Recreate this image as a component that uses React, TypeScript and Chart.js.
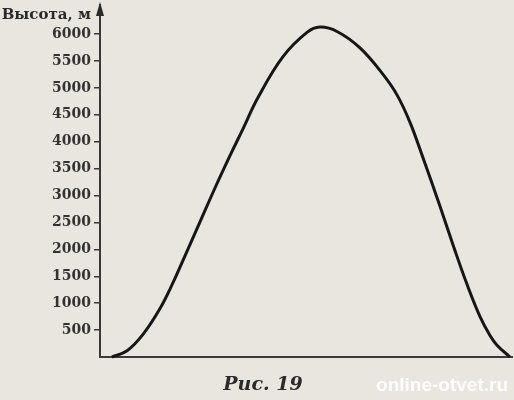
import { useEffect, useRef } from "react";
import { Chart, registerables } from "chart.js";

Chart.register(...registerables);

// Horizontal distance (arbitrary units along the unlabeled x axis)
const distance = [12, 27, 43, 60, 73, 85, 100, 115, 130, 143, 158, 183, 207, 220, 237, 260, 283, 297, 310, 323, 340, 354, 367, 380, 390, 397, 410];
// Height, metres
const heightM = [0, 115, 420, 900, 1380, 1880, 2510, 3140, 3740, 4240, 4820, 5580, 6030, 6129, 6048, 5743, 5250, 4870, 4360, 3700, 2800, 2030, 1350, 750, 400, 220, 0];
const yTickValues = [500, 1000, 1500, 2000, 2500, 3000, 3500, 4000, 4500, 5000, 5500, 6000];
const yAxisTitle = "Высота, м";
const caption = "Рис. 19";
const watermark = "online-otvet.ru";

const PAPER = "#e9e6df";
const INK = "#2b2b2b";

export default function App() {
  const ref = useRef<HTMLCanvasElement | null>(null);

  useEffect(() => {
    if (!ref.current) return;
    const decor = {
      id: "decor",
      beforeDraw(chart: any) {
        const c = chart.ctx;
        c.save();
        c.fillStyle = PAPER;
        c.fillRect(0, 0, chart.width, chart.height);
        c.restore();
      },
      afterDraw(chart: any) {
        const c = chart.ctx;
        const a = chart.chartArea;
        c.save();
        // arrow on y axis
        c.fillStyle = INK;
        c.beginPath();
        c.moveTo(a.left, a.top - 3);
        c.lineTo(a.left - 4, a.top + 11);
        c.lineTo(a.left + 4, a.top + 11);
        c.closePath();
        c.fill();
        // axis title
        c.font = "bold 15px 'DejaVu Serif'";
        c.textAlign = "right";
        c.textBaseline = "alphabetic";
        c.fillStyle = INK;
        c.fillText(yAxisTitle, a.left - 9, 19);
        // caption
        c.font = "italic bold 19px 'DejaVu Serif'";
        c.textAlign = "center";
        c.fillText(caption, 263, 390);
        // watermark
        c.font = "bold 19px 'Liberation Sans'";
        c.textAlign = "right";
        c.fillStyle = "rgba(255,255,255,0.92)";
        c.fillText(watermark, 508, 391, 140);
        c.restore();
      },
    };

    const chart = new Chart(ref.current, {
      type: "line",
      data: {
        labels: distance,
        datasets: [
          {
            data: distance.map((x, i) => ({ x, y: heightM[i] })),
            borderColor: "#161616",
            borderWidth: 3,
            pointRadius: 0,
            fill: false,
            tension: 0.4,
            clip: false as any,
          },
        ],
      },
      options: {
        animation: false,
        responsive: false,
        maintainAspectRatio: false,
        layout: { padding: { top: 5, right: 2, left: 0, bottom: 0 } },
        plugins: { legend: { display: false }, tooltip: { enabled: false }, title: { display: false } },
        scales: {
          x: {
            type: "linear",
            min: 0,
            max: 412,
            ticks: { display: false },
            grid: { display: false, drawTicks: false },
            border: { display: true, color: "#3a3a3a", width: 2 },
            afterFit(scale: any) {
              scale.height = 43;
              scale.paddingLeft = 0;
              scale.paddingRight = 0;
            },
          },
          y: {
            type: "linear",
            min: 0,
            max: 6540,
            afterBuildTicks(scale: any) {
              scale.ticks = yTickValues.map((v) => ({ value: v }));
            },
            ticks: {
              color: "#333",
              font: { family: "'DejaVu Serif'", weight: "bold", size: 14 },
              padding: 3,
              autoSkip: false,
              callback: (v: any) => String(v),
            },
            grid: { drawOnChartArea: false, drawTicks: true, tickLength: 6, color: "#3a3a3a", lineWidth: 1.5 },
            border: { display: true, color: "#3a3a3a", width: 2 },
            afterFit(scale: any) {
              scale.width = 100;
              scale.paddingTop = 0;
              scale.paddingBottom = 0;
            },
          },
        },
      },
      plugins: [decor],
    } as any);
    return () => chart.destroy();
  }, []);

  return (
    <div style={{ position: "absolute", left: 0, top: 0, width: 514, height: 400, background: PAPER }}>
      <canvas ref={ref} width={514} height={400} style={{ width: 514, height: 400 }} />
    </div>
  );
}
